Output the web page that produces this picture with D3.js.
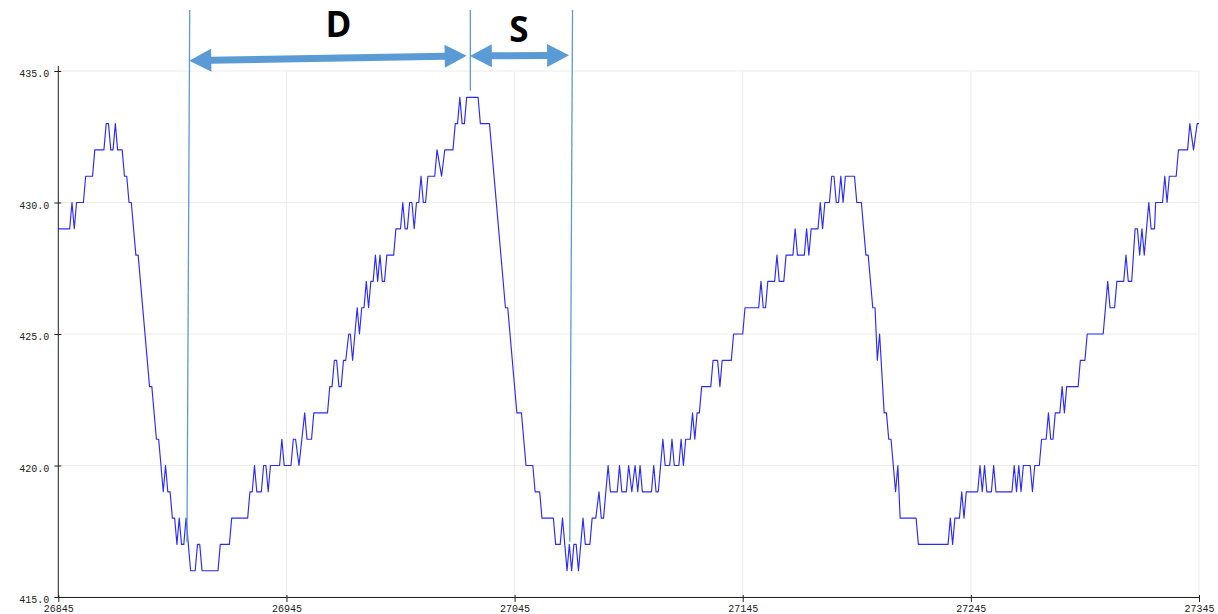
<!DOCTYPE html>
<html>
<head>
<meta charset="utf-8">
<script src="https://cdn.jsdelivr.net/npm/d3@7"></script>
<style>
  html, body { margin: 0; padding: 0; background: #ffffff; }
  svg { display: block; }
</style>
</head>
<body>
<svg id="chart" width="1218" height="614"></svg>
<script>
// ---- data ----
const xTicks = [26845, 26945, 27045, 27145, 27245, 27345];
const yTicks = [415, 420, 425, 430, 435];

// vertices of the trace (x offset from 26845, value)
const sampleOffset = [
  0,5,6,7,8,11,12,15,16,20,21,22,23,24,25,26,28,29,30,31,32,34,35,40,41,43,44,46,47,48,49,50,51,52,53,54,55,56,58,60,
  61,62,63,70,71,75,76,83,84,85,86,87,89,90,91,92,93,97,98,99,102,103,104,105.5,108,109,111,112,118,119,120,121,122,123,124,125,126,127.3,128,129,
  131,132,133,134,135,136,137,138,139,140,141,142,143,144,147,148,150,151,152,153,154,155,156,157,158,159,160,161,162,165,166,168,169.4,173,174,175,176,177,178,179,
  184,185,189,196,197,201,203,205,208,209,211,212,217,218,220,221,223,224,225,226,227,228,230,231,233,234,235.6,237,238,239,241,242,245,246,247,249,
  250,251.4,252.8,254,255,256,260,261,262,263,265,266,268,269,270,272,273,274,275,277,278,279,280,281,282,286,287,289,290,291,295,296,300,301,307,308,309,310,311,314,
  315,316,318,319,322,323,324,327,328,329,330,333,334,335,336,338,339,340,341,342,343,344,345,349,350,352,354,355,357,358,359,360,362,363,364,365,367,368,369,376,
  377,390,391,392,393,395,396,397,398,403,404,405,406,407,409,410,411,418,419,420,421,422,423,426,427,428,430,431,433,434,435,436,437,439,440,441,442,447,448,450,
  451,458,460,461,463,464,467,468,469,470.5,472,473,474,475,476,478,479,480.5,481,484,485,486,487,490,491,495,496,497.6,499.2,500
];
const sampleValue = [
  429,429,430,429,430,430,431,431,432,432,433,433,432,432,433,432,432,431,431,430,430,428,428,423,423,421,421,419,420,419,419,418,418,417,418,417,417,418,416,416,
  417,417,416,416,417,417,418,418,419,419,420,419,419,420,420,419,420,420,421,420,420,421,421,420,422,421,421,422,422,423,423,424,424,423,423,424,424,425,425,424,
  426,425,426,426,427,426,427,427,428,427,428,427,427,428,428,429,429,430,429,429,430,430,429,430,430,431,430,430,431,431,432,431,432,432,433,433,434,433,433,434,
  434,433,433,426,426,422,422,420,420,419,419,418,418,417,417,418,416,417,416,417,417,416,418,417,417,418,418,419,418,418,420,419,419,420,419,419,
  420,419,420,419,420,419,419,420,419,419,421,420,420,421,420,420,421,420,421,421,422,421,422,422,423,423,424,424,423,424,424,425,425,426,426,427,426,426,427,427,
  428,427,427,428,428,429,428,428,429,428,429,429,430,429,430,430,431,431,430,430,431,430,431,431,430,430,428,428,426,426,424,425,422,422,421,421,419,420,418,418,
  417,417,418,417,418,418,419,418,419,419,420,419,420,419,419,420,419,419,420,419,420,419,420,420,419,420,420,421,421,422,421,421,422,422,423,422,423,423,424,424,
  425,425,427,426,426,427,427,428,427,427,429,429,428,429,428,430,429,429,430,430,431,430,431,431,432,432,433,432,433,433
];
const xStart = 26845;

// annotation: marker lines (x at top, x at bottom, value at top, value at bottom)
const markerTopX    = [26902.6, 27025.6, 27070.4];
const markerBottomX = [26901.4, 27025.6, 27069.2];
const markerTopV    = [437.32, 437.32, 437.32];
const markerBottomV = [417.1, 434.25, 417.1];
// annotation: double arrows (x1, v1, x2, v2) and their letters
const arrowX1 = [26902.4, 27025.4];
const arrowV1 = [435.39, 435.57];
const arrowX2 = [27024.0, 27068.9];
const arrowV2 = [435.58, 435.6];
const arrowLabel = ["D", "S"];
const labelX = [26967.8, 27046.9];
const labelV = [436.28, 436.11];

// ---- drawing ----
const svg = d3.select("#chart");
const x = d3.scaleLinear().domain([26845, 27345]).range([58.3, 1199]);
const y = d3.scaleLinear().domain([415, 435]).range([597, 71]);

const gridColor = "#ececec";
const grid = svg.append("g");
grid.selectAll("line.v").data(xTicks).join("line")
  .attr("x1", d => x(d)).attr("x2", d => x(d))
  .attr("y1", y(435)).attr("y2", y(415))
  .attr("stroke", gridColor).attr("stroke-width", 1);
grid.selectAll("line.h").data(yTicks).join("line")
  .attr("x1", x(26845)).attr("x2", x(27345))
  .attr("y1", d => y(d)).attr("y2", d => y(d))
  .attr("stroke", gridColor).attr("stroke-width", 1);

// trace
const pts = sampleOffset.map((o, i) => [xStart + o, sampleValue[i]]);
const line = d3.line().x(d => x(d[0])).y(d => y(d[1]));
svg.append("path").datum(pts)
  .attr("d", line)
  .attr("fill", "none")
  .attr("stroke", "#2a2aff")
  .attr("stroke-width", 1.15)
  .attr("stroke-linejoin", "round");

// axes
const fontFam = "'Liberation Mono', 'DejaVu Sans Mono', monospace";
const yAxis = svg.append("g").attr("transform", `translate(${x(26845)},0)`)
  .call(d3.axisLeft(y).tickValues(yTicks).tickFormat(d3.format(".1f")).tickSizeInner(4).tickSizeOuter(0).tickPadding(6));
yAxis.select(".domain").remove();
yAxis.selectAll(".tick line").attr("x2", 3).attr("x1", -4).attr("stroke", "#222");
yAxis.selectAll(".tick text").attr("font-family", fontFam).attr("font-size", 10).attr("fill", "#222").attr("dy", "0.55em").attr("x", -9);
yAxis.append("line").attr("x1", 0).attr("x2", 0).attr("y1", y(435) - 5).attr("y2", y(415)).attr("stroke", "#222");

const xAxis = svg.append("g").attr("transform", `translate(0,${y(415)})`)
  .call(d3.axisBottom(x).tickValues(xTicks).tickFormat(d3.format("d")).tickSizeInner(5).tickSizeOuter(0).tickPadding(3));
xAxis.select(".domain").attr("stroke", "#222");
xAxis.selectAll(".tick line").attr("y1", -2).attr("stroke", "#222");
xAxis.selectAll(".tick text").attr("font-family", fontFam).attr("font-size", 10).attr("fill", "#222");

// annotations
const annColor = "#5b9bd5";
const ann = svg.append("g");
ann.selectAll("line.marker").data(markerTopX).join("line")
  .attr("x1", (d, i) => x(markerTopX[i])).attr("x2", (d, i) => x(markerBottomX[i]))
  .attr("y1", (d, i) => y(markerTopV[i])).attr("y2", (d, i) => y(markerBottomV[i]))
  .attr("stroke", annColor).attr("stroke-width", 1.3);

function arrowPath(x1, y1, x2, y2, shaft, headLen, headW) {
  const dx = x2 - x1, dy = y2 - y1, L = Math.hypot(dx, dy);
  const ux = dx / L, uy = dy / L, nx = -uy, ny = ux;
  const P = (a, b) => [x1 + ux * a + nx * b, y1 + uy * a + ny * b];
  const p = [
    P(0, 0), P(headLen, -headW / 2), P(headLen, -shaft / 2),
    P(L - headLen, -shaft / 2), P(L - headLen, -headW / 2), P(L, 0),
    P(L - headLen, headW / 2), P(L - headLen, shaft / 2),
    P(headLen, shaft / 2), P(headLen, headW / 2)
  ];
  return "M" + p.map(q => q[0].toFixed(2) + "," + q[1].toFixed(2)).join("L") + "Z";
}
ann.selectAll("path.arrow").data(arrowX1).join("path")
  .attr("d", (d, i) => arrowPath(x(arrowX1[i]), y(arrowV1[i]), x(arrowX2[i]), y(arrowV2[i]), 7, 22, 23))
  .attr("fill", annColor);
ann.selectAll("text.lbl").data(arrowLabel).join("text")
  .attr("x", (d, i) => x(labelX[i])).attr("y", (d, i) => y(labelV[i]))
  .attr("text-anchor", "middle")
  .attr("font-family", "'Open Sans', 'Noto Sans', sans-serif")
  .attr("font-weight", "bold").attr("font-size", 35)
  .attr("fill", "#000")
  .text(d => d);
</script>
</body>
</html>
